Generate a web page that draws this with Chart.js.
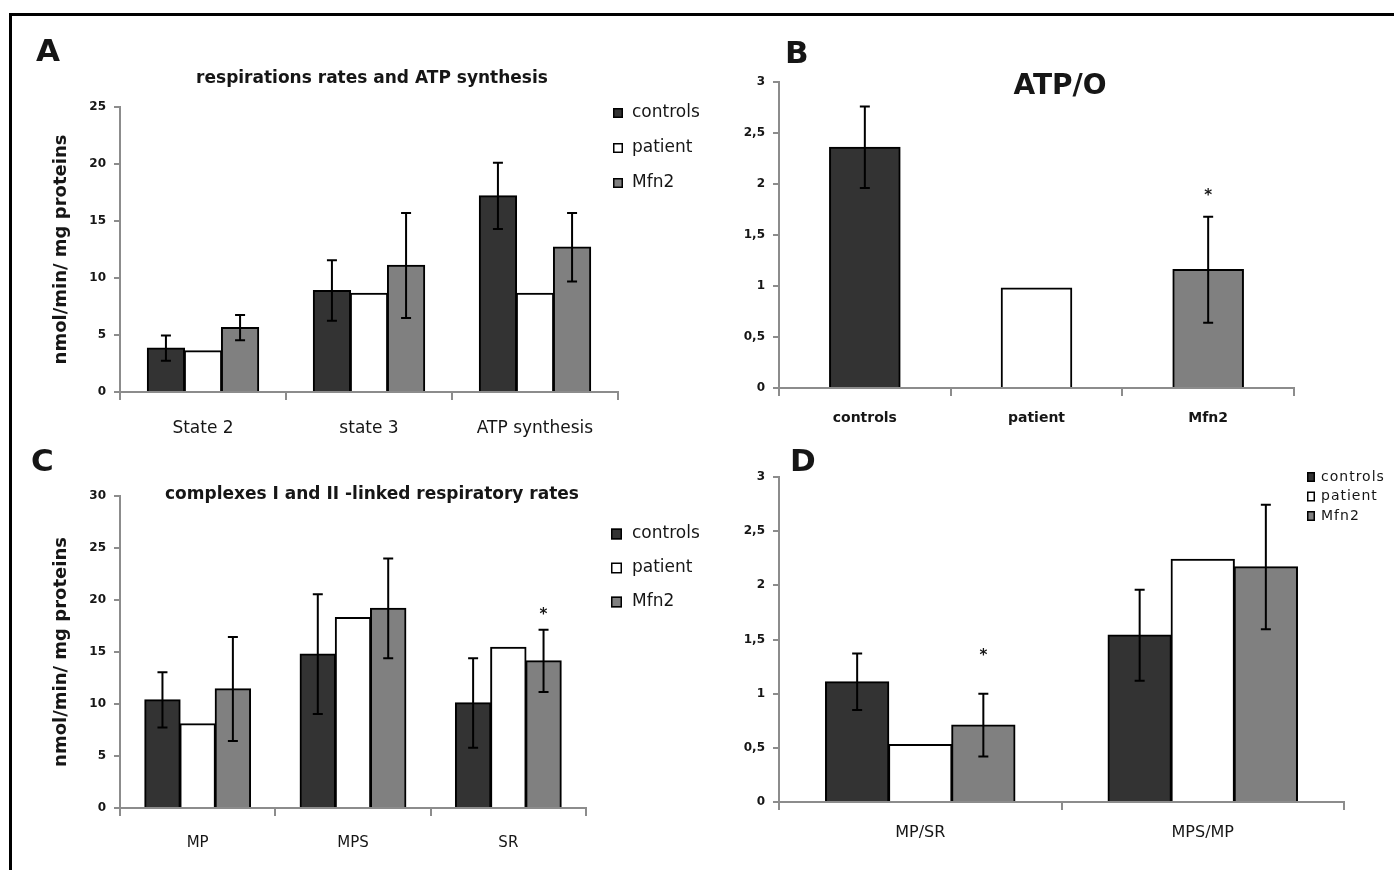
<!DOCTYPE html>
<html>
<head>
<meta charset="utf-8">
<script src="https://cdn.jsdelivr.net/npm/chart.js@4.4.1/dist/chart.umd.min.js"></script>
<style>
html,body{margin:0;padding:0;background:#fff;}
#fig{position:relative;width:1394px;height:870px;overflow:hidden;background:#fff;font-family:"DejaVu Sans",sans-serif;color:#161616;}
canvas{position:absolute;}
.frameTop{position:absolute;left:9px;top:13px;width:1385px;height:3px;background:#000;}
.frameLeft{position:absolute;left:9px;top:13px;width:3px;height:857px;background:#000;}
.letter{position:absolute;font-weight:bold;font-size:31px;line-height:1;white-space:nowrap;}
.title{position:absolute;font-weight:bold;line-height:1;white-space:nowrap;transform:translate(-50%,-50%);}
</style>
</head>
<body>
<div id="fig">
  <div class="frameTop"></div>
  <div class="frameLeft"></div>
  <canvas id="cA" width="760" height="445" style="left:0;top:0;width:760px;height:445px"></canvas>
  <canvas id="cB" width="694" height="445" style="left:700px;top:0;width:694px;height:445px"></canvas>
  <canvas id="cC" width="760" height="430" style="left:0;top:440px;width:760px;height:430px"></canvas>
  <canvas id="cD" width="694" height="430" style="left:700px;top:440px;width:694px;height:430px"></canvas>
  <div class="letter" style="left:36px;top:35px">A</div>
  <div class="letter" style="left:785px;top:37px">B</div>
  <div class="letter" style="left:31px;top:445px">C</div>
  <div class="letter" style="left:790px;top:445px">D</div>
  <div class="title" style="left:372px;top:77px;font-size:17px">respirations rates and ATP synthesis</div>
  <div class="title" style="left:1060px;top:85px;font-size:28px">ATP/O</div>
  <div class="title" style="left:372px;top:493px;font-size:17px">complexes I and II -linked respiratory rates</div>
</div>
<script>
// ---------- data ----------
const seriesNames = ['controls', 'patient', 'Mfn2'];

// Panel A: respirations rates and ATP synthesis
const catsA = ['State 2', 'state 3', 'ATP synthesis'];
const controlsA = [3.85, 8.9, 17.2];
const controlsErrA = [1.1, 2.65, 2.9];
const patientA = [3.6, 8.65, 8.65];
const mfn2A = [5.65, 11.1, 12.7];
const mfn2ErrA = [1.1, 4.6, 3.0];
const yTicksA = ['0', '5', '10', '15', '20', '25'];

// Panel B: ATP/O
const catsB = ['controls', 'patient', 'Mfn2'];
const valuesB = [2.36, 0.98, 1.16];
const errorsB = [0.4, 0, 0.52];
const starsB = [null, null, 1.93];
const yTicksB = ['0', '0,5', '1', '1,5', '2', '2,5', '3'];

// Panel C: complexes I and II -linked respiratory rates
const catsC = ['MP', 'MPS', 'SR'];
const controlsC = [10.4, 14.8, 10.1];
const controlsErrC = [2.65, 5.75, 4.3];
const patientC = [8.1, 18.3, 15.45];
const mfn2C = [11.45, 19.2, 14.15];
const mfn2ErrC = [5.0, 4.8, 3.0];
const starsMfn2C = [null, null, 19.0];
const yTicksC = ['0', '5', '10', '15', '20', '25', '30'];

// Panel D: ratios
const catsD = ['MP/SR', 'MPS/MP'];
const controlsD = [1.11, 1.54];
const controlsErrD = [0.26, 0.42];
const patientD = [0.53, 2.24];
const mfn2D = [0.71, 2.17];
const mfn2ErrD = [0.29, 0.575];
const starsMfn2D = [1.39, null];
const yTicksD = ['0', '0,5', '1', '1,5', '2', '2,5', '3'];

// ---------- styles ----------
const F = '"DejaVu Sans", sans-serif';
const AXIS = '#8c8c8c';
const TXT = '#161616';
const COL = ['#333333', '#ffffff', '#808080'];

// error bars, stars and legend drawn through the chart's own scales/elements
const figPlugin = {
  id: 'fig',
  afterDatasetsDraw(chart) {
    const ctx = chart.ctx, ys = chart.scales.y;
    ctx.save();
    chart.data.datasets.forEach((ds, i) => {
      const meta = chart.getDatasetMeta(i);
      meta.data.forEach((bar, j) => {
        const v = ds.data[j];
        const e = ds.errors ? ds.errors[j] : 0;
        if (e) {
          const yt = ys.getPixelForValue(v + e), yb = ys.getPixelForValue(v - e);
          ctx.strokeStyle = '#000'; ctx.lineWidth = 2;
          ctx.beginPath();
          ctx.moveTo(bar.x, yt); ctx.lineTo(bar.x, yb);
          ctx.moveTo(bar.x - 5, yt); ctx.lineTo(bar.x + 5, yt);
          ctx.moveTo(bar.x - 5, yb); ctx.lineTo(bar.x + 5, yb);
          ctx.stroke();
        }
        const s = ds.stars ? ds.stars[j] : null;
        if (s != null) {
          ctx.fillStyle = TXT;
          ctx.font = 'bold 15px ' + F;
          ctx.textAlign = 'center'; ctx.textBaseline = 'alphabetic';
          ctx.fillText('*', bar.x, ys.getPixelForValue(s) + 15 * 0.58);
        }
      });
    });
    ctx.restore();
  },
  afterDraw(chart, args, opts) {
    const L = opts && opts.legend;
    if (!L) return;
    const ctx = chart.ctx;
    ctx.save();
    chart.data.datasets.forEach((ds, i) => {
      const cy = L.y + i * L.dy;
      ctx.fillStyle = ds.backgroundColor;
      ctx.fillRect(L.x, cy - L.h / 2, L.w, L.h);
      ctx.strokeStyle = '#000'; ctx.lineWidth = 1.5;
      ctx.strokeRect(L.x + 0.75, cy - L.h / 2 + 0.75, L.w - 1.5, L.h - 1.5);
      ctx.fillStyle = TXT;
      ctx.font = L.size + 'px ' + F;
      if ('letterSpacing' in ctx) ctx.letterSpacing = (L.spacing || 0) + 'px';
      ctx.textAlign = 'left'; ctx.textBaseline = 'middle';
      ctx.fillText(ds.label, L.tx, cy);
    });
    ctx.restore();
  }
};

function yScale(max, step, labels, width, title) {
  return {
    min: 0, max: max,
    ticks: { stepSize: step, padding: 8, color: TXT, font: { family: F, size: 12, weight: 'bold' },
             callback: (v, i) => labels[i] },
    grid: { drawOnChartArea: false, drawTicks: true, tickLength: 6, color: AXIS, lineWidth: 2 },
    border: { display: true, color: AXIS, width: 2 },
    title: title ? { display: true, text: title, color: TXT, font: { family: F, size: 18, weight: 'bold' },
                     padding: { top: 51, bottom: 0 } } : { display: false },
    afterFit: s => { s.width = width; }
  };
}
function xScale(size, bold, pad) {
  return {
    type: 'category', offset: true,
    grid: { offset: true, drawOnChartArea: false, drawTicks: true, tickLength: 8, color: AXIS, lineWidth: 2 },
    border: { display: true, color: AXIS, width: 2 },
    ticks: { padding: pad, color: TXT, maxRotation: 0, autoSkip: false,
             font: { family: F, size: size, weight: bold ? 'bold' : 'normal' } },
    afterFit: s => { s.height = 50; }
  };
}
function groupDatasets(vals, errs, stars, cp) {
  return vals.map((v, i) => ({
    label: seriesNames[i], data: v, errors: errs[i], stars: stars[i],
    backgroundColor: COL[i], borderColor: '#000', borderWidth: 2,
    categoryPercentage: cp, barPercentage: 1, inflateAmount: 0.6
  }));
}
function baseOptions(padding, scales, legend) {
  return {
    responsive: false, animation: false, devicePixelRatio: 1, events: [],
    layout: { padding: padding },
    scales: scales,
    plugins: { legend: { display: false }, tooltip: { enabled: false }, title: { display: false },
               fig: { legend: legend } }
  };
}

// Panel A
new Chart(document.getElementById('cA'), {
  type: 'bar',
  data: { labels: catsA, datasets: groupDatasets([controlsA, patientA, mfn2A],
          [controlsErrA, null, mfn2ErrA], [null, null, null], 0.67) },
  options: baseOptions({ left: 0, top: 107, right: 142, bottom: 3 },
    { x: xScale(17, false, 18), y: yScale(25, 5, yTicksA, 120, 'nmol/min/ mg proteins') },
    { x: 613, y: 113, dy: 35, w: 10, h: 10, tx: 632, size: 17 }),
  plugins: [figPlugin]
});

// Panel B
new Chart(document.getElementById('cB'), {
  type: 'bar',
  data: { labels: catsB, datasets: [{
    label: 'ATP/O', data: valuesB, errors: errorsB, stars: starsB,
    backgroundColor: COL, borderColor: '#000', borderWidth: 2,
    categoryPercentage: 0.41, barPercentage: 1, inflateAmount: 0.6 }] },
  options: baseOptions({ left: 0, top: 82, right: 100, bottom: 7 },
    { x: xScale(14, true, 14), y: yScale(3, 0.5, yTicksB, 79, null) }, null),
  plugins: [figPlugin]
});

// Panel C
new Chart(document.getElementById('cC'), {
  type: 'bar',
  data: { labels: catsC, datasets: groupDatasets([controlsC, patientC, mfn2C],
          [controlsErrC, null, mfn2ErrC], [null, null, starsMfn2C], 0.68) },
  options: baseOptions({ left: 0, top: 56, right: 174, bottom: 12 },
    { x: xScale(15, false, 18), y: yScale(30, 5, yTicksC, 120, 'nmol/min/ mg proteins') },
    { x: 611, y: 94, dy: 34, w: 11, h: 11, tx: 632, size: 17 }),
  plugins: [figPlugin]
});

// Panel D
new Chart(document.getElementById('cD'), {
  type: 'bar',
  data: { labels: catsD, datasets: groupDatasets([controlsD, patientD, mfn2D],
          [controlsErrD, null, mfn2ErrD], [null, null, starsMfn2D], 0.67) },
  options: baseOptions({ left: 0, top: 37, right: 50, bottom: 18 },
    { x: xScale(16, false, 13), y: yScale(3, 0.5, yTicksD, 79, null) },
    { x: 607, y: 37, dy: 19.5, w: 8, h: 10, tx: 621, size: 14, spacing: 1 }),
  plugins: [figPlugin]
});
</script>
</body>
</html>
